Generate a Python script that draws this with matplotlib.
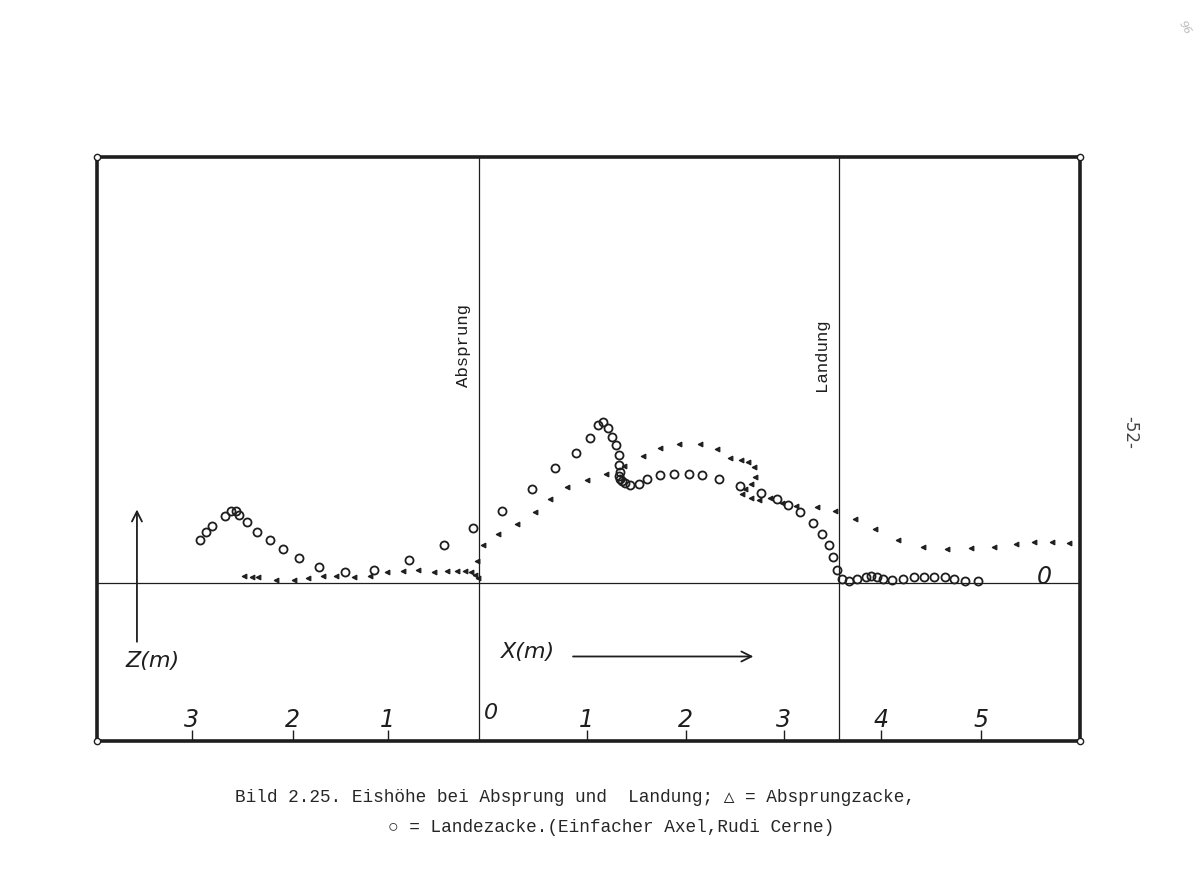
import matplotlib
matplotlib.use("Agg")
import matplotlib.pyplot as plt

# Absprungzacke (triangles): x and z in m, z relative to the ice line
absprung_x = [-2.40, -2.32, -2.25, -2.07, -1.89, -1.74, -1.59, -1.46, -1.28, -1.11,
              -0.94, -0.78, -0.62, -0.46, -0.33, -0.22, -0.14, -0.08, -0.04, -0.01,
              -0.02, 0.04, 0.19, 0.39, 0.57, 0.72, 0.90, 1.10, 1.30, 1.48,
              1.67, 1.85, 2.04, 2.26, 2.43, 2.56, 2.67, 2.75, 2.81, 2.82,
              2.78, 2.71, 2.68, 2.78, 2.86, 2.97, 3.09, 3.24, 3.45, 3.63,
              3.84, 4.04, 4.28, 4.53, 4.78, 5.02, 5.26, 5.48, 5.66, 5.85, 6.02]
absprung_z = [0.07, 0.06, 0.06, 0.03, 0.03, 0.05, 0.07, 0.07, 0.06, 0.07,
              0.11, 0.12, 0.13, 0.11, 0.12, 0.12, 0.12, 0.11, 0.08, 0.05,
              0.22, 0.39, 0.50, 0.60, 0.72, 0.86, 0.98, 1.05, 1.11, 1.19,
              1.30, 1.38, 1.42, 1.42, 1.37, 1.28, 1.25, 1.23, 1.18, 1.08,
              1.01, 0.96, 0.91, 0.87, 0.85, 0.87, 0.82, 0.79, 0.78, 0.73,
              0.65, 0.55, 0.44, 0.37, 0.35, 0.36, 0.37, 0.40, 0.42, 0.42, 0.41]

# Landezacke (circles)
lande_x = [-2.85, -2.79, -2.72, -2.59, -2.53, -2.48, -2.45, -2.37, -2.26, -2.13,
           -2.00, -1.84, -1.63, -1.37, -1.07, -0.71, -0.36, -0.06, 0.24, 0.54,
           0.78, 0.99, 1.13, 1.21, 1.27, 1.32, 1.36, 1.40, 1.43, 1.43,
           1.44, 1.43, 1.44, 1.46, 1.49, 1.54, 1.63, 1.71, 1.85, 1.99,
           2.14, 2.28, 2.45, 2.66, 2.88, 3.04, 3.15, 3.28, 3.41, 3.50,
           3.57, 3.61, 3.65, 3.70, 3.78, 3.86, 3.95, 4.00, 4.06, 4.12,
           4.21, 4.33, 4.44, 4.54, 4.64, 4.76, 4.85, 4.96, 5.09]
lande_z = [0.44, 0.52, 0.58, 0.68, 0.73, 0.73, 0.69, 0.62, 0.52, 0.44,
           0.35, 0.25, 0.16, 0.11, 0.13, 0.23, 0.39, 0.56, 0.73, 0.96,
           1.17, 1.33, 1.48, 1.61, 1.64, 1.58, 1.49, 1.41, 1.31, 1.20,
           1.13, 1.09, 1.06, 1.04, 1.02, 1.00, 1.01, 1.06, 1.10, 1.11,
           1.11, 1.10, 1.06, 0.99, 0.92, 0.86, 0.80, 0.72, 0.61, 0.50,
           0.39, 0.27, 0.13, 0.04, 0.02, 0.04, 0.06, 0.07, 0.06, 0.04,
           0.03, 0.04, 0.06, 0.06, 0.06, 0.06, 0.04, 0.02, 0.02]

# scale labels along the bottom edge (left of Absprung counted backwards)
tick_pos = [-2.93, -1.90, -0.93, 1.10, 2.11, 3.11, 4.10, 5.12]
tick_labels = ["3", "2", "1", "1", "2", "3", "4", "5"]

x_absprung = 0.0
x_landung = 3.67

ink = "#1e1e1e"
mono = ["Liberation Mono", "DejaVu Sans Mono", "DejaVu Sans"]


def main():
    fig = plt.figure(figsize=(12, 8.86), dpi=100)
    fig.patch.set_facecolor("white")
    ax = fig.add_axes([0.0808, 0.1637, 0.8192, 0.6591])
    ax.set_xlim(-3.898, 6.133)
    ax.set_ylim(-1.612, 4.347)

    for s in ax.spines.values():
        s.set_linewidth(2.6)
        s.set_color(ink)

    # ice line and the two markers
    ax.axhline(0, color=ink, lw=0.9)
    ax.axvline(x_absprung, color=ink, lw=0.9)
    ax.axvline(x_landung, color=ink, lw=0.9)
    ax.text(x_absprung - 0.16, 2.42, "Absprung", rotation=90, ha="center", va="center",
            family=mono, fontsize=12.5, color=ink)
    ax.text(x_landung - 0.17, 2.33, "Landung", rotation=90, ha="center", va="center",
            family=mono, fontsize=12.5, color=ink)

    ax.plot(absprung_x, absprung_z, ls="none", marker="<", ms=3.4, mfc=ink,
            mec=ink, mew=0.8)
    ax.plot(lande_x, lande_z, ls="none", marker="o", ms=5.8, mfc="none",
            mec=ink, mew=1.3)

    # corner rings
    ax.plot([0, 1, 0, 1], [0, 0, 1, 1], ls="none", marker="o", ms=4.5, mfc="white",
            mec=ink, mew=1.0, transform=ax.transAxes, clip_on=False, zorder=5)

    # axis arrows and names
    ax.annotate("", xy=(-3.49, 0.75), xytext=(-3.49, -0.60),
                arrowprops=dict(arrowstyle="->", color=ink, lw=1.3,
                                mutation_scale=18, shrinkA=0, shrinkB=0))
    ax.text(-3.33, -0.80, "Z(m)", ha="center", va="center", fontsize=16,
            style="italic", color=ink)
    ax.annotate("", xy=(2.80, -0.75), xytext=(0.96, -0.75),
                arrowprops=dict(arrowstyle="->", color=ink, lw=1.3,
                                mutation_scale=18, shrinkA=0, shrinkB=0))
    ax.text(0.50, -0.70, "X(m)", ha="center", va="center", fontsize=16,
            style="italic", color=ink)
    ax.text(5.77, 0.06, "0", ha="center", va="center", fontsize=17,
            style="italic", color=ink)
    ax.text(0.12, -1.33, "0", ha="center", va="center", fontsize=16,
            style="italic", color=ink)

    ax.set_yticks([])
    ax.set_xticks(tick_pos, labels=tick_labels)
    ax.tick_params(axis="x", direction="in", length=8, width=1.0, color=ink,
                   pad=-24, labelsize=17, labelcolor=ink)
    for lab in ax.get_xticklabels():
        lab.set_style("italic")

    # caption
    fig.text(0.196, 1 - 798 / 886, "Bild 2.25. Eishöhe bei Absprung und  Landung; \u25b3 = Absprungzacke,",
             family=mono, fontsize=12.8, color="#262626", va="center")
    fig.text(0.323, 1 - 828 / 886, "\u25cb = Landezacke.(Einfacher Axel,Rudi Cerne)",
             family=mono, fontsize=12.8, color="#262626", va="center")

    # page number at the margin
    fig.text(1130 / 1200, 1 - 432 / 886, "-52-", rotation=-90, ha="center", va="center",
             fontsize=12, color="#444444")
    fig.text(1185 / 1200, 1 - 28 / 886, "96", rotation=-60, ha="center", va="center",
             fontsize=8, color="#bbbbbb", style="italic")

    fig.savefig("out.png", dpi=100)


if __name__ == '__main__':
    main()
